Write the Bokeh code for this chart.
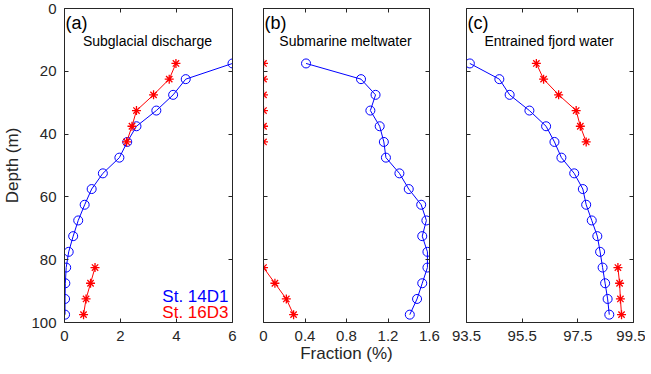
import math
from bokeh.plotting import figure
from bokeh.models import Range1d, LinearAxis, FixedTicker, Label
from bokeh.layouts import row
from bokeh.embed import file_html
from bokeh.resources import INLINE

# ---------------- data ----------------
depth_blue = [17.5, 22.5, 27.5, 32.5, 37.5, 42.5, 47.5, 52.5, 57.5, 62.5,
              67.5, 72.5, 77.5, 82.5, 87.5, 92.5, 97.5]
depth_red = [17.5, 22.5, 27.5, 32.5, 37.5, 42.5, 82.5, 87.5, 92.5, 97.5]

sgd_blue = [6.0, 4.33, 3.88, 3.28, 2.57, 2.24, 1.96, 1.37, 0.97, 0.72,
            0.49, 0.31, 0.15, 0.06, 0.03, 0.02, 0.02]
sgd_red = [3.98, 3.74, 3.18, 2.57, 2.41, 2.22, 1.09, 0.93, 0.77, 0.68]

smw_blue = [0.41, 0.94, 1.08, 1.03, 1.12, 1.16, 1.18, 1.31, 1.40, 1.52,
            1.57, 1.53, 1.58, 1.58, 1.53, 1.48, 1.41]
smw_red = [0.0, 0.0, 0.0, 0.0, 0.0, 0.0, 0.0, 0.11, 0.22, 0.29]

efw_blue = [93.62, 94.68, 95.05, 95.76, 96.36, 96.66, 96.91, 97.37, 97.68, 97.80,
            98.00, 98.20, 98.30, 98.39, 98.48, 98.57, 98.63]
efw_red = [96.01, 96.27, 96.81, 97.44, 97.59, 97.80, 98.94, 99.00, 99.03, 99.07]

ticks_a = [0, 2, 4, 6]
labels_a = ["0", "2", "4", "6"]
ticks_b = [0, 0.4, 0.8, 1.2, 1.6]
labels_b = ["0", "0.4", "0.8", "1.2", "1.6"]
ticks_c = [93.5, 95.5, 97.5, 99.5]
labels_c = ["93.5", "95.5", "97.5", "99.5"]
ticks_y = [0, 20, 40, 60, 80, 100]
labels_y = ["0", "20", "40", "60", "80", "100"]

panel_letters = ["(a)", "(b)", "(c)"]
panel_titles = ["Subglacial discharge", "Submarine meltwater", "Entrained fjord water"]
legend_labels = ["St. 14D1", "St. 16D3"]
xlabel = "Fraction (%)"
ylabel = "Depth (m)"

BLUE = "#0000FF"
RED = "#FF0000"
AX = "#262626"
FONT = "Liberation Sans"
H = 374


def style_axis(ax, ticks, labels, show_labels):
    ax.ticker = FixedTicker(ticks=ticks)
    ax.major_label_overrides = {t: l for t, l in zip(ticks, labels)}
    ax.major_tick_in = 4
    ax.major_tick_out = 0
    ax.minor_tick_in = 0
    ax.minor_tick_out = 0
    ax.axis_line_color = AX
    ax.major_tick_line_color = AX
    ax.major_label_text_font = FONT
    if show_labels:
        ax.major_label_text_color = AX
        ax.major_label_text_font_size = "15px"
        ax.major_label_standoff = 8
    else:
        ax.major_label_text_color = None
        ax.major_label_text_font_size = "1px"
        ax.major_label_standoff = 0


def make_panel(width, bl, br, xr, xticks, xlabels, blue, red, idx, show_ylabels):
    p = figure(width=width, height=H, x_range=Range1d(*xr), y_range=Range1d(100, 0),
               output_backend="svg", toolbar_location=None,
               min_border_left=bl, min_border_right=br,
               min_border_top=8, min_border_bottom=H - 322)
    p.grid.visible = False
    p.outline_line_color = None
    p.background_fill_color = "white"
    p.border_fill_color = "white"

    style_axis(p.below[0], xticks, xlabels, True)
    style_axis(p.left[0], ticks_y, labels_y, show_ylabels)
    if show_ylabels:
        ya = p.left[0]
        ya.axis_label = ylabel
        ya.axis_label_text_font = FONT
        ya.axis_label_text_font_size = "17px"
        ya.axis_label_text_font_style = "normal"
        ya.axis_label_text_color = AX
        ya.axis_label_standoff = 6

    top = LinearAxis()
    style_axis(top, xticks, xlabels, False)
    p.add_layout(top, "above")
    right = LinearAxis()
    style_axis(right, ticks_y, labels_y, False)
    p.add_layout(right, "right")

    # blue series
    p.line(blue, depth_blue, line_color=BLUE, line_width=1)
    p.scatter(blue, depth_blue, marker="circle", size=9, fill_color=None,
              line_color=BLUE, line_width=1)
    # red series with a gap between the two depth segments
    rx = red[:6] + [math.nan] + red[6:]
    ry = depth_red[:6] + [math.nan] + depth_red[6:]
    p.line(rx, ry, line_color=RED, line_width=1)
    p.scatter(red, depth_red, marker="asterisk", size=9, line_color=RED, line_width=1.3)

    p.add_layout(Label(x=xr[0], y=4.6, x_offset=1, text=panel_letters[idx],
                       text_font=FONT, text_font_size="18px", text_color="black",
                       text_align="left", text_baseline="middle"))
    p.add_layout(Label(x=(xr[0] + xr[1]) / 2, y=10.4, x_offset=-1, text=panel_titles[idx],
                       text_font=FONT, text_font_size="14px", text_color="black",
                       text_align="center", text_baseline="middle"))
    return p


pa = make_panel(247, 62, 15, (0, 6), ticks_a, labels_a, sgd_blue, sgd_red, 0, True)
pb = make_panel(201, 16, 19, (0, 1.6), ticks_b, labels_b, smw_blue, smw_red, 1, False)
pc = make_panel(197, 18, 12, (93.5, 99.5), ticks_c, labels_c, efw_blue, efw_red, 2, False)

xb = pb.below[0]
xb.axis_label = xlabel
xb.axis_label_text_font = FONT
xb.axis_label_text_font_size = "17px"
xb.axis_label_text_font_style = "normal"
xb.axis_label_text_color = AX
xb.axis_label_standoff = 0

pa.add_layout(Label(x=6, y=91.8, x_offset=-4, text=legend_labels[0], text_font=FONT,
                    text_font_size="17px", text_color=BLUE, text_align="right",
                    text_baseline="middle"))
pa.add_layout(Label(x=6, y=96.9, x_offset=-4, text=legend_labels[1], text_font=FONT,
                    text_font_size="17px", text_color=RED, text_align="right",
                    text_baseline="middle"))

layout = row(pa, pb, pc, spacing=0)

open("out.html", "w").write(file_html(layout, INLINE))
